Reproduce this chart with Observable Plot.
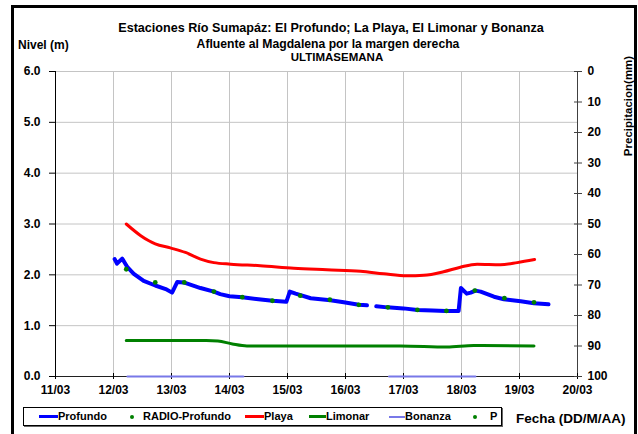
<!DOCTYPE html>
<html><head><meta charset="utf-8">
<script src="https://cdn.jsdelivr.net/npm/d3@7"></script>
<script src="https://cdn.jsdelivr.net/npm/@observablehq/plot@0.6"></script>
<style>
body{margin:0;background:#fff;}
#wrap{position:relative;width:638px;height:434px;overflow:hidden;font-family:"Liberation Sans",Arial,sans-serif;font-weight:bold;color:#000;background:#fff;}
.t{position:absolute;white-space:nowrap;line-height:1;}
.ctr{text-align:center;width:600px;}
.sw{position:absolute;}
</style></head><body>
<div id="wrap">
  <div id="chart" style="position:absolute;left:0;top:0"></div>
  <div class="t ctr" style="left:31px;top:22px;font-size:12.6px">Estaciones Río Sumapáz: El Profundo; La Playa, El Limonar y Bonanza</div>
  <div class="t ctr" style="left:28px;top:37.5px;font-size:12.2px">Afluente al Magdalena por la margen derecha</div>
  <div class="t ctr" style="left:37px;top:52px;font-size:11.5px">ULTIMASEMANA</div>
  <div class="t" style="left:18px;top:39px;font-size:12px">Nivel (m)</div>
  <div class="t" style="left:629px;top:106px;font-size:11.5px;transform:translate(-50%,-50%) rotate(-90deg)">Precipitacion(mm)</div>
  <div class="t" style="left:516px;top:412px;font-size:13.5px">Fecha (DD/M/AA)</div>
  <div id="legend" style="position:absolute;left:23px;top:407px;width:477px;height:17px;border:1px solid #000;background:#fff;box-shadow:1px 1px 0 #666"></div>
  <div id="frame" style="position:absolute;left:11px;top:5px;width:620px;height:440px;border:3px solid #000;border-bottom:none"></div>
</div>
<script>
// ---- data ----
const xDomain = [11, 20];
const yDomain = [0, 6];
const dayTicks = [11, 12, 13, 14, 15, 16, 17, 18, 19, 20];
const dayLabels = ["11/03","12/03","13/03","14/03","15/03","16/03","17/03","18/03","19/03","20/03"];
const levelTicks = [0, 1, 2, 3, 4, 5, 6];
const precTicks = [0, 10, 20, 30, 40, 50, 60, 70, 80, 90, 100];
const precMax = 100;

const profundoX = [12.02,12.06,12.15,12.24,12.35,12.52,12.72,12.90,13.01,13.10,13.21,13.50,13.73,13.84,14.00,14.22,14.50,14.74,14.98,15.04,15.14,15.40,15.74,15.97,16.23,16.37,16.45,16.53,16.72,17.00,17.24,17.50,17.72,17.95,17.99,18.09,18.16,18.24,18.33,18.56,18.73,19.02,19.25,19.50];
const profundoY = [2.31,2.22,2.32,2.15,2.02,1.88,1.79,1.72,1.65,1.86,1.85,1.74,1.67,1.62,1.58,1.56,1.52,1.49,1.47,1.67,1.63,1.54,1.50,1.46,1.41,1.40,null,1.38,1.36,1.34,1.31,1.30,1.29,1.29,1.74,1.63,1.65,1.69,1.67,1.57,1.52,1.48,1.44,1.42];

const radioX = [12.22,12.72,13.22,13.73,14.22,14.74,15.22,15.73,16.23,16.73,17.24,17.74,18.23,18.74,19.25];
const radioY = [2.11,1.85,1.85,1.67,1.56,1.49,1.59,1.51,1.41,1.36,1.31,1.29,1.69,1.54,1.46];

const playaX = [12.22,12.47,12.61,12.72,12.98,13.24,13.50,13.73,14.02,14.53,15.11,15.68,16.26,16.66,17.06,17.35,17.69,17.98,18.27,18.67,18.96,19.26];
const playaY = [3.00,2.77,2.67,2.61,2.53,2.44,2.31,2.24,2.21,2.18,2.13,2.10,2.07,2.02,1.98,1.99,2.06,2.15,2.21,2.20,2.24,2.30];

const limonarX = [12.22,13.00,13.60,13.80,14.05,14.30,15.22,16.95,17.75,18.21,19.25];
const limonarY = [0.71,0.71,0.71,0.70,0.64,0.60,0.60,0.60,0.58,0.61,0.60];

const bonanzaX = [12.24,14.24,15.50,16.75,18.24];
const bonanzaY = [0,0,null,0,0];

const precipX = [];
const precipY = [];

// ---- build ----
const zip = (xs, ys) => xs.map((x, i) => ({x, y: ys[i]}));
const profundo = zip(profundoX, profundoY);
const radio = zip(radioX, radioY);
const playa = zip(playaX, playaY);
const limonar = zip(limonarX, limonarY);
const bonanza = zip(bonanzaX, bonanzaY);
const precip = zip(precipX, precipY);
const toLevel = p => yDomain[1] - p * (yDomain[1] - yDomain[0]) / precMax;

const plot = Plot.plot({
  width: 638, height: 434,
  marginLeft: 55, marginRight: 61, marginTop: 71, marginBottom: 58,
  style: {fontFamily: "Liberation Sans, Arial, sans-serif", fontSize: "12px", fontWeight: "bold", background: "transparent", color: "#000"},
  x: {domain: xDomain},
  y: {domain: yDomain},
  marks: [
    Plot.gridX(dayTicks, {stroke: "#c4c4c4", strokeOpacity: 1}),
    Plot.gridY(levelTicks, {stroke: "#c4c4c4", strokeOpacity: 1}),
    Plot.ruleX([xDomain[0]], {stroke: "#000"}),
    Plot.ruleX([xDomain[1]], {stroke: "#404040"}),
    Plot.ruleY([yDomain[0]], {stroke: "#202020"}),
    Plot.axisX(dayTicks, {tickSize: 6, dy: -3, tickPadding: 6, label: null, tickFormat: d => dayLabels[dayTicks.indexOf(d)], fontSize: 12}),
    Plot.axisY(levelTicks, {tickSize: 6, tickPadding: 9, label: null, tickFormat: d => d.toFixed(1), fontSize: 12}),
    Plot.axisY(precTicks, {anchor: "right", y: toLevel, tickSize: 8, dx: -4, tickPadding: 6, label: null, text: d => String(d), fontSize: 12, stroke: "#404040"}),
    Plot.line(playa, {x: "x", y: "y", stroke: "#ff0000", strokeWidth: 3, curve: "monotone-x"}),
    Plot.line(limonar, {x: "x", y: "y", stroke: "#008000", strokeWidth: 3, curve: "monotone-x"}),
    Plot.line(profundo, {x: "x", y: "y", stroke: "#0000ff", strokeWidth: 4, strokeLinejoin: "round"}),
    Plot.dot(radio, {x: "x", y: "y", r: 2.4, fill: "#008000"}),
    Plot.dot(precip, {x: "x", y: d => toLevel(d.y), r: 2.4, fill: "#008000"}),
    Plot.line(bonanza, {x: "x", y: "y", stroke: "#7878e8", strokeWidth: 2})
  ]
});
document.getElementById("chart").appendChild(plot);

// ---- legend ----
const legendItems = [
  {label: "Profundo", kind: "line", color: "#0000ff", w: 3, sx: 39, sw: 19, tx: 58},
  {label: "RADIO-Profundo", kind: "dot", color: "#008000", sx: 132, tx: 143},
  {label: "Playa", kind: "line", color: "#ff0000", w: 3, sx: 245, sw: 19, tx: 264},
  {label: "Limonar", kind: "line", color: "#008000", w: 3, sx: 309, sw: 17, tx: 326},
  {label: "Bonanza", kind: "line", color: "#7878e8", w: 2, sx: 389, sw: 16, tx: 405},
  {label: "P", kind: "dot", color: "#008000", sx: 474.5, tx: 490}
];
const wrap = document.getElementById("wrap");
const cy = 416.5;
for (const it of legendItems) {
  const s = document.createElement("div");
  s.className = "sw";
  if (it.kind === "line") {
    Object.assign(s.style, {left: it.sx + "px", top: (cy - it.w / 2) + "px", width: it.sw + "px", height: it.w + "px", background: it.color});
  } else {
    Object.assign(s.style, {left: (it.sx - 2) + "px", top: (cy - 2) + "px", width: "4px", height: "4px", borderRadius: "50%", background: it.color});
  }
  wrap.insertBefore(s, document.getElementById("frame"));
  const t = document.createElement("div");
  t.className = "t";
  t.textContent = it.label;
  Object.assign(t.style, {left: it.tx + "px", top: "411px", fontSize: "11px"});
  wrap.insertBefore(t, document.getElementById("frame"));
}
</script>
</body></html>
